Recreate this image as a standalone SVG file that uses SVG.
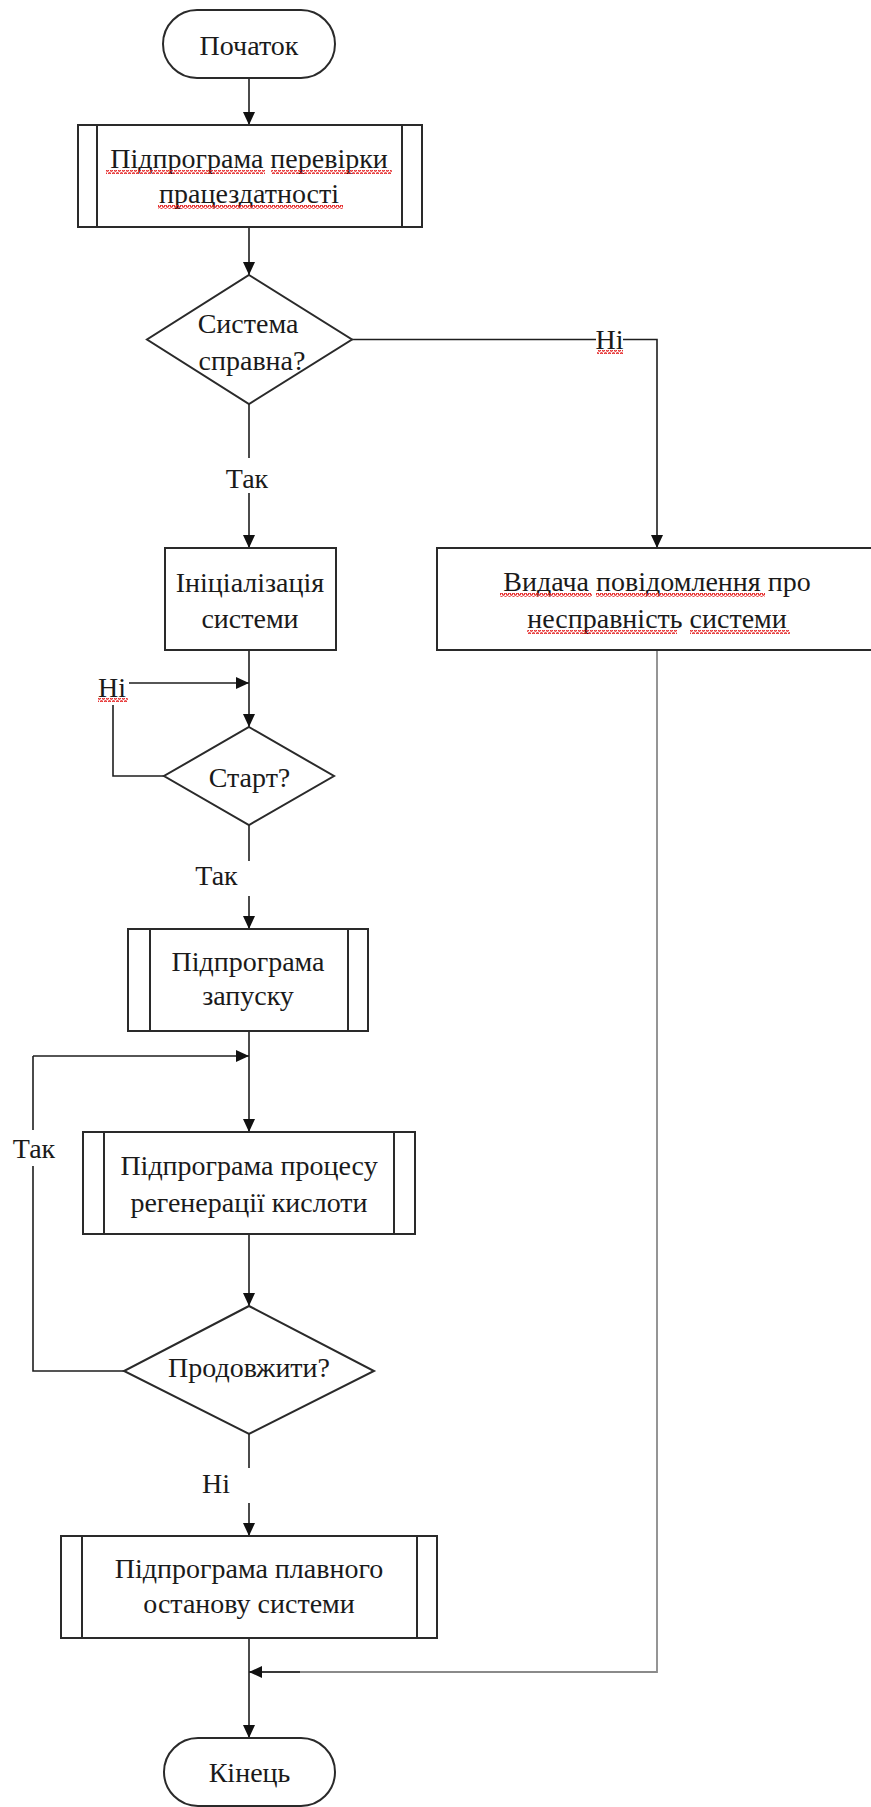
<svg xmlns="http://www.w3.org/2000/svg" width="871" height="1807" viewBox="0 0 871 1807">
  <defs>
    <marker id="arrow" markerUnits="userSpaceOnUse" markerWidth="13" markerHeight="12" refX="13" refY="6" orient="auto">
      <path d="M0,0 L13,6 L0,12 z" fill="#111"/>
    </marker>
    <pattern id="wavy" patternUnits="userSpaceOnUse" width="4" height="4">
      <path d="M0,3.2 L1,0.8 L2,0.8 L3,3.2 L4,3.2" fill="none" stroke="#e41c1c" stroke-width="1.2"/>
    </pattern>
  </defs>
  <style>
    .shape { fill: #fff; stroke: #2a2a2a; stroke-width: 2; }
    .bar { stroke: #2a2a2a; stroke-width: 2; }
    .conn { fill: none; stroke: #1e1e1e; stroke-width: 1.6; }
    .conn-grey { fill: none; stroke: #8a8a8a; stroke-width: 1.8; }
    .lbl { font-family: "Liberation Serif", "Times New Roman", serif; font-size: 28px; fill: #1a1a1a; text-anchor: middle; }
    .spell { fill: url(#wavy); }
  </style>
  <rect width="871" height="1807" fill="#fff"/>

  <!-- connectors -->
  <g id="connectors">
    <line class="conn" x1="249" y1="78" x2="249" y2="125" marker-end="url(#arrow)"/>
    <line class="conn" x1="249" y1="227" x2="249" y2="275" marker-end="url(#arrow)"/>
    <!-- yes branch of first check -->
    <line class="conn" x1="249" y1="404" x2="249" y2="458"/>
    <line class="conn" x1="249" y1="493" x2="249" y2="548" marker-end="url(#arrow)"/>
    <!-- no branch of first check -->
    <line class="conn" x1="352" y1="339.5" x2="596" y2="339.5"/>
    <polyline class="conn" points="623,339.5 657,339.5 657,548" marker-end="url(#arrow)"/>
    <!-- init to start decision -->
    <line class="conn" x1="249" y1="650" x2="249" y2="727" marker-end="url(#arrow)"/>
    <!-- start wait loop -->
    <polyline class="conn" points="164,776 113,776 113,705"/>
    <line class="conn" x1="129" y1="683" x2="249" y2="683" marker-end="url(#arrow)"/>
    <!-- start confirmed -->
    <line class="conn" x1="249" y1="825" x2="249" y2="861"/>
    <line class="conn" x1="249" y1="896" x2="249" y2="929" marker-end="url(#arrow)"/>
    <line class="conn" x1="249" y1="1031" x2="249" y2="1132" marker-end="url(#arrow)"/>
    <!-- repeat loop -->
    <line class="conn" x1="33" y1="1056" x2="249" y2="1056" marker-end="url(#arrow)"/>
    <line class="conn" x1="33" y1="1056" x2="33" y2="1130"/>
    <polyline class="conn" points="33,1166 33,1371 124,1371"/>
    <line class="conn" x1="249" y1="1234" x2="249" y2="1306" marker-end="url(#arrow)"/>
    <!-- stop branch -->
    <line class="conn" x1="249" y1="1434" x2="249" y2="1468"/>
    <line class="conn" x1="249" y1="1503" x2="249" y2="1536" marker-end="url(#arrow)"/>
    <line class="conn" x1="249" y1="1638" x2="249" y2="1738" marker-end="url(#arrow)"/>
    <!-- fault message joins the end -->
    <polyline class="conn-grey" points="657,650 657,1672 250,1672"/>
    <line class="conn" x1="300" y1="1672" x2="249" y2="1672" marker-end="url(#arrow)"/>

    <text class="lbl" x="247" y="488">Так</text>
    <text class="lbl" x="609.5" y="349">Ні</text>
    <rect class="spell" x="597" y="350" width="26" height="4"/>
    <text class="lbl" x="112" y="697">Ні</text>
    <rect class="spell" x="98" y="698" width="30" height="4"/>
    <text class="lbl" x="216.5" y="885">Так</text>
    <text class="lbl" x="34" y="1158">Так</text>
    <text class="lbl" x="216" y="1493">Ні</text>
  </g>

  <g id="start">
    <rect class="shape" x="163" y="10" width="172" height="68" rx="34" ry="34"/>
    <text class="lbl" x="249" y="55">Початок</text>
  </g>

  <g id="check-sub">
    <rect class="shape" x="78" y="125" width="344" height="102"/>
    <line class="bar" x1="97" y1="125" x2="97" y2="227"/>
    <line class="bar" x1="402" y1="125" x2="402" y2="227"/>
    <text class="lbl" x="249" y="168">Підпрограма перевірки</text>
    <text class="lbl" x="249" y="203">працездатності</text>
    <rect class="spell" x="106" y="170" width="159" height="4"/>
    <rect class="spell" x="271" y="170" width="121" height="4"/>
    <rect class="spell" x="158" y="205" width="185" height="4"/>
  </g>

  <g id="system-ok">
    <polygon class="shape" points="249,275 352,339.5 249,404 147,339.5"/>
    <text class="lbl" x="248" y="333">Система</text>
    <text class="lbl" x="252" y="370">справна?</text>
  </g>

  <g id="init">
    <rect class="shape" x="165" y="548" width="171" height="102"/>
    <text class="lbl" x="250" y="592">Ініціалізація</text>
    <text class="lbl" x="250" y="628">системи</text>
  </g>

  <g id="fault-message">
    <rect class="shape" x="437" y="548" width="442" height="102"/>
    <text class="lbl" x="657" y="591">Видача повідомлення про</text>
    <text class="lbl" x="657" y="628">несправність системи</text>
    <rect class="spell" x="500" y="593" width="92" height="4"/>
    <rect class="spell" x="596" y="593" width="169" height="4"/>
    <rect class="spell" x="527" y="630" width="150" height="4"/>
    <rect class="spell" x="690" y="630" width="100" height="4"/>
  </g>

  <g id="start-check">
    <polygon class="shape" points="249,727 334,776 249,825 164,776"/>
    <text class="lbl" x="249.5" y="787">Старт?</text>
  </g>

  <g id="launch-sub">
    <rect class="shape" x="128" y="929" width="240" height="102"/>
    <line class="bar" x1="150" y1="929" x2="150" y2="1031"/>
    <line class="bar" x1="348" y1="929" x2="348" y2="1031"/>
    <text class="lbl" x="248" y="971">Підпрограма</text>
    <text class="lbl" x="248" y="1005">запуску</text>
  </g>

  <g id="regeneration-sub">
    <rect class="shape" x="83" y="1132" width="332" height="102"/>
    <line class="bar" x1="104" y1="1132" x2="104" y2="1234"/>
    <line class="bar" x1="394" y1="1132" x2="394" y2="1234"/>
    <text class="lbl" x="249" y="1175">Підпрограма процесу</text>
    <text class="lbl" x="249" y="1212">регенерації кислоти</text>
  </g>

  <g id="continue-check">
    <polygon class="shape" points="249,1306 374,1371 249,1434 124,1371"/>
    <text class="lbl" x="249" y="1377">Продовжити?</text>
  </g>

  <g id="shutdown-sub">
    <rect class="shape" x="61" y="1536" width="376" height="102"/>
    <line class="bar" x1="82" y1="1536" x2="82" y2="1638"/>
    <line class="bar" x1="417" y1="1536" x2="417" y2="1638"/>
    <text class="lbl" x="249" y="1578">Підпрограма плавного</text>
    <text class="lbl" x="249" y="1613">останову системи</text>
  </g>

  <g id="end">
    <rect class="shape" x="164" y="1738" width="171" height="68" rx="34" ry="34"/>
    <text class="lbl" x="249.5" y="1782">Кінець</text>
  </g>
</svg>
